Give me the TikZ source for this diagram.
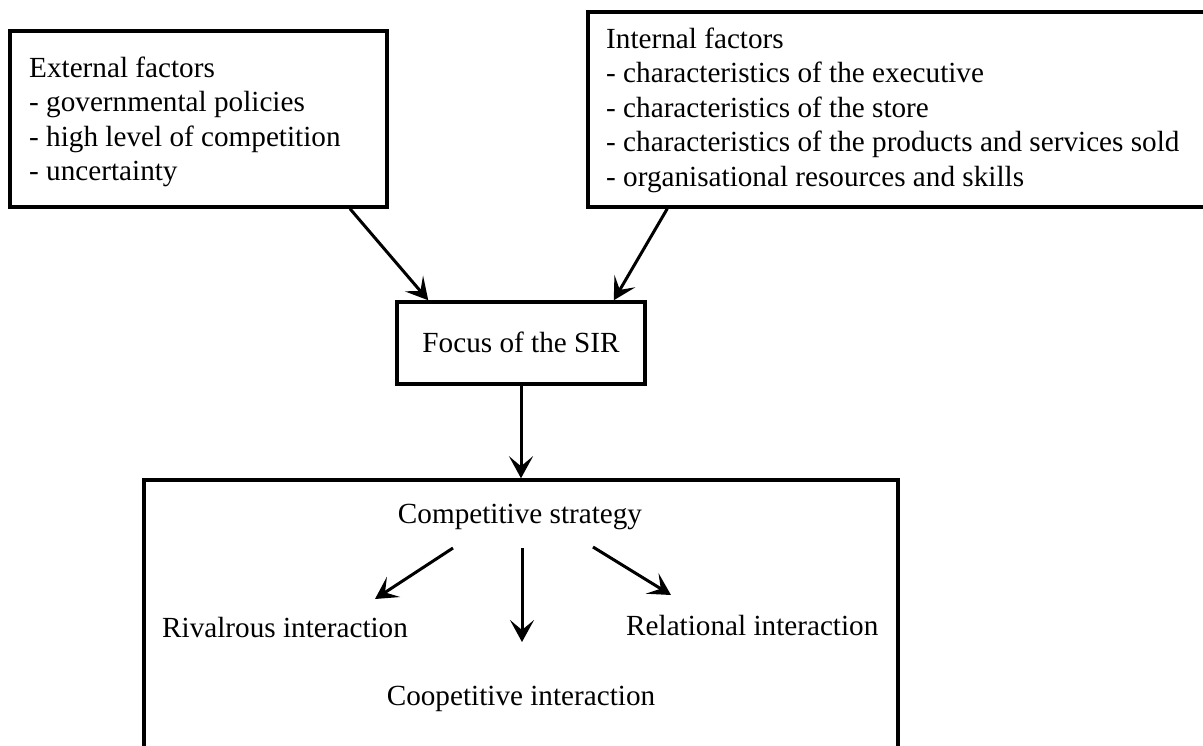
\documentclass[tikz,border=0pt]{standalone}
\usepackage{fontspec}
\setmainfont{Liberation Serif}
\usetikzlibrary{arrows.meta}
\begin{document}
\begin{tikzpicture}[x=1pt,y=-1pt,
  box/.style={draw, line width=3.5pt, inner sep=0pt},
  arr/.style={line width=3pt, -{Stealth[length=22pt,width=24pt,inset=10pt]}},
  lbl/.style={inner sep=0pt, font=\fontsize{29.2}{34.5}\selectfont}]
\useasboundingbox (0,0) rectangle (1203,745);
\clip (0,0) rectangle (1203,745);
% boxes
\node[box, minimum width=377pt, minimum height=176pt] (ext) at (198.5,119) {};
\node[box, minimum width=630pt, minimum height=195pt] (int) at (903,109.5) {};
\node[box, minimum width=248pt, minimum height=82pt] (focus) at (521,343) {};
\node[box, minimum width=754pt, minimum height=300pt] (strat) at (521,630) {};
% box texts
\node[lbl, anchor=base west] (exttext) at (29,77) {\begin{tabular}[t]{@{}l@{}}External factors\\- governmental policies\\- high level of competition\\- uncertainty\end{tabular}};
\node[lbl, anchor=base west] (inttext) at (606,48) {\begin{tabular}[t]{@{}l@{}}Internal factors\\- characteristics of the executive\\- characteristics of the store\\- characteristics of the products and services sold\\- organisational resources and skills\end{tabular}};
\node[lbl, anchor=base] (focustext) at (521,352) {Focus of the SIR};
\node[lbl, anchor=base] (cs) at (520,523) {Competitive strategy};
\node[lbl, anchor=base west] (riv) at (162,637) {Rivalrous interaction};
\node[lbl, anchor=base west] (rel) at (626,635) {Relational interaction};
\node[lbl, anchor=base] (coop) at (521,705) {Coopetitive interaction};
% connectors between boxes
\draw[arr] ([xshift=151.5pt]ext.south) -- ([xshift=33pt]focus.north west);
\draw[arr] ([xshift=81pt]int.south west) -- ([xshift=-33pt]focus.north east);
\draw[arr] (focus.south) -- (strat.north);
% inner arrows
\coordinate (a1s) at (453,548);
\coordinate (a1e) at (375,599);
\coordinate (a2s) at (522,548);
\coordinate (a2e) at (522,642);
\coordinate (a3s) at (593,547);
\coordinate (a3e) at (671,595);
\draw[arr] (a1s) -- (a1e);
\draw[arr] (a2s) -- (a2e);
\draw[arr] (a3s) -- (a3e);
\end{tikzpicture}
\end{document}
